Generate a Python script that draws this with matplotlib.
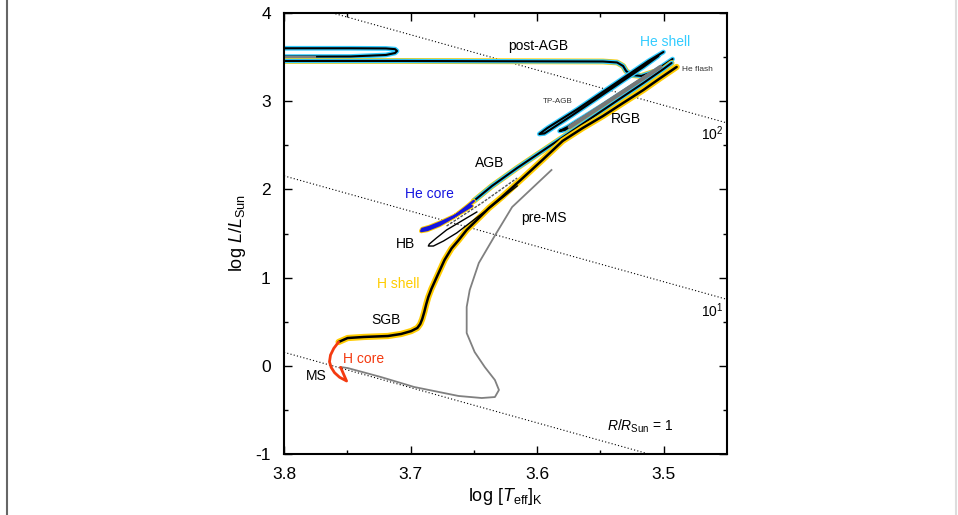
import numpy as np
import matplotlib
matplotlib.use('Agg')
import matplotlib.pyplot as plt
import matplotlib.patheffects as pe

plt.rcParams['font.family'] = ['Liberation Sans', 'DejaVu Sans']
plt.rcParams['mathtext.fontset'] = 'custom'
plt.rcParams['mathtext.rm'] = 'Liberation Sans'
plt.rcParams['mathtext.it'] = 'Liberation Sans:italic'

# evolutionary track of a 1 Msun star (log Teff, log L)
pre_ms_t = [3.5887, 3.6198, 3.6341, 3.6461, 3.6533, 3.6557, 3.6557, 3.6494, 3.6414,
            3.6334, 3.6302, 3.6334, 3.6438, 3.6621, 3.6972, 3.7235, 3.7498, 3.7554]
pre_ms_l = [2.220, 1.800, 1.460, 1.166, 0.859, 0.667, 0.372, 0.156, -0.014,
            -0.161, -0.274, -0.354, -0.365, -0.342, -0.240, -0.127, -0.025, -0.014]

h_core_t = [3.7553, 3.7530, 3.7506, 3.7561, 3.7601, 3.7628, 3.7641, 3.7633, 3.7607, 3.7569]
h_core_l = [-0.017, -0.093, -0.172, -0.130, -0.078, -0.017, 0.046, 0.122, 0.198, 0.270]

h_shell_t = [3.7569, 3.7498, 3.7370, 3.7179, 3.7075, 3.6995, 3.6947, 3.6924, 3.6908, 3.6892,
             3.6876, 3.6860, 3.6836, 3.6804, 3.6780, 3.6732, 3.6676, 3.6620, 3.6557, 3.6493,
             3.6381, 3.6278, 3.6174, 3.6062, 3.5959, 3.5799, 3.5640, 3.5480, 3.5321, 3.5161,
             3.5026, 3.4898]
h_shell_l = [0.270, 0.315, 0.327, 0.338, 0.361, 0.394, 0.429, 0.474, 0.531, 0.610,
             0.701, 0.780, 0.871, 0.973, 1.049, 1.200, 1.332, 1.426, 1.540, 1.630,
             1.789, 1.914, 2.050, 2.197, 2.333, 2.549, 2.696, 2.832, 2.980, 3.127,
             3.263, 3.388]

hb_t = [3.6477, 3.6597, 3.6716, 3.6796, 3.6852, 3.6860, 3.6820, 3.6740, 3.6636, 3.6533,
        3.6357, 3.6158]
hb_l = [1.744, 1.642, 1.540, 1.449, 1.381, 1.358, 1.358, 1.415, 1.506, 1.619,
        1.812, 2.039]
hb_band_t = [3.6716, 3.6437, 3.6158]
hb_band_l = [1.585, 1.846, 2.129]

he_core_t = [3.6517, 3.6636, 3.6756, 3.6852, 3.6908, 3.6916, 3.6868, 3.6772, 3.6660, 3.6549, 3.6501]
he_core_l = [1.812, 1.710, 1.630, 1.574, 1.551, 1.528, 1.540, 1.596, 1.687, 1.812, 1.869]

agb_t = [3.6501, 3.6357, 3.6158, 3.5959, 3.5759, 3.5560, 3.5361, 3.5161, 3.5002, 3.4938]
agb_l = [1.869, 2.039, 2.243, 2.435, 2.628, 2.821, 3.014, 3.206, 3.365, 3.433]

tp_a_t = [3.5002, 3.5121, 3.5400, 3.5680, 3.5919, 3.5983, 3.5943, 3.5719, 3.5440, 3.5161, 3.5042]
tp_a_l = [3.558, 3.456, 3.184, 2.912, 2.696, 2.628, 2.634, 2.844, 3.116, 3.388, 3.512]
tp_b_t = [3.4930, 3.5161, 3.5480, 3.5759, 3.5823, 3.5783, 3.5520, 3.5281, 3.5082, 3.4962]
tp_b_l = [3.478, 3.252, 2.957, 2.708, 2.662, 2.673, 2.912, 3.138, 3.320, 3.433]

grey_band_t = [3.5743, 3.5385, 3.5026]
grey_band_l = [2.708, 3.048, 3.388]

post_agb_t = [3.5082, 3.5177, 3.5257, 3.5297, 3.5321, 3.5369, 3.5480, 3.6278, 3.7075, 3.8112]
post_agb_l = [3.331, 3.286, 3.297, 3.342, 3.399, 3.439, 3.450, 3.453, 3.456, 3.456]

loop_t = [3.8112, 3.7474, 3.7195, 3.7123, 3.7107, 3.7123, 3.7195, 3.7474, 3.8112]
loop_l = [3.505, 3.507, 3.524, 3.546, 3.569, 3.590, 3.598, 3.600, 3.600]
loop_grey_t = [3.8112, 3.7753]
loop_grey_l = [3.505, 3.505]

# lines of constant radius (Stefan-Boltzmann)
radii = [1, 10, 100]
log_t_sun = 3.7617

yellow = '#FFCC00'
cyan = '#33CCFF'
blue = '#1515E0'
red = '#F43A10'

fig = plt.figure(figsize=(9.58, 5.15), dpi=100)
ax = fig.add_axes([0.2965, 0.1184, 0.4624, 0.8564])

t_grid = np.array([3.8, 3.45])
for r in radii:
    ax.plot(t_grid, 2 * np.log10(r) + 4 * (t_grid - log_t_sun), ls=(0, (1, 2)),
            color='black', lw=0.8)

ax.plot(pre_ms_t, pre_ms_l, color='#808080', lw=1.3)


def outlined(t, l, colors, widths, core='black', lw=1.5):
    effects = [pe.Stroke(linewidth=w, foreground=c) for c, w in zip(colors, widths)]
    effects.append(pe.Normal())
    ax.plot(t, l, color=core, lw=lw, solid_capstyle='round', solid_joinstyle='round',
            path_effects=effects)


outlined(loop_t, loop_l, [cyan], [3.4])
ax.plot(loop_grey_t, loop_grey_l, color='#808080', lw=1.5)
outlined(post_agb_t, post_agb_l, [yellow, cyan], [4.2, 3.2])
outlined(tp_a_t, tp_a_l, [cyan], [3.4])
outlined(tp_b_t, tp_b_l, [cyan], [3.4])
outlined(agb_t, agb_l, [yellow, cyan], [4.2, 3.2])
ax.plot(grey_band_t, grey_band_l, color='#777777', lw=3.0, solid_capstyle='round')
outlined(h_shell_t, h_shell_l, [yellow], [4.5], lw=1.8)
ax.plot(hb_band_t, hb_band_l, color='#555555', lw=1.0, ls=(0, (2, 1)))
ax.plot(hb_t, hb_l, color='black', lw=1.0)
outlined(he_core_t, he_core_l, [yellow], [3.2], core=blue, lw=1.8)
ax.plot(h_core_t, h_core_l, color=red, lw=2.0, solid_capstyle='round')

ax.set_xlim(3.8, 3.45)
ax.set_ylim(-1, 4)
ax.set_xticks([3.8, 3.7, 3.6, 3.5])
ax.set_xticks([3.75, 3.65, 3.55], minor=True)
ax.set_yticks([-1, 0, 1, 2, 3, 4])
ax.set_yticks([-0.5, 0.5, 1.5, 2.5, 3.5], minor=True)
ax.set_xticklabels(['3.8', '3.7', '3.6', '3.5'])
ax.set_yticklabels(['-1', '0', '1', '2', '3', '4'])
ax.tick_params(which='both', direction='in', top=True, right=True, labelsize=12.5, width=1)
ax.tick_params(which='major', length=6, pad=9.5)
ax.tick_params(which='minor', length=3)
for s in ax.spines.values():
    s.set_linewidth(1.5)

ax.set_xlabel(r'log [$\mathit{T}_{\mathrm{eff}}$]$_{\mathrm{K}}$', fontsize=13, labelpad=3)
ax.set_ylabel(r'log $\mathit{L}/\mathit{L}_{\mathrm{Sun}}$', fontsize=13, labelpad=5)

fs = 10
lab = dict(fontsize=fs, ha='center', va='baseline')
ax.text(3.5991, 3.580, 'post-AGB', **lab)
ax.text(3.4986, 3.620, 'He shell', color=cyan, **lab)
ax.text(3.4731, 3.337, 'He flash', fontsize=6, ha='center', va='baseline', color='#333333')
ax.text(3.5841, 2.976, 'TP-AGB', fontsize=5.8, ha='center', va='baseline', color='#333333')
ax.text(3.5301, 2.749, 'RGB', **lab)
ax.text(3.6373, 2.257, 'AGB', **lab)
ax.text(3.6853, 1.899, 'He core', color=blue, **lab)
ax.text(3.5945, 1.634, 'pre-MS', **lab)
ax.text(3.7043, 1.332, 'HB', **lab)
ax.text(3.7095, 0.879, 'H shell', color=yellow, **lab)
ax.text(3.7197, 0.4705, 'SGB', **lab)
ax.text(3.7370, 0.035, 'H core', color=red, **lab)
ax.text(3.7749, -0.161, 'MS', **lab)
ax.text(3.4707, 2.560, r'10$^{2}$', fontsize=fs, ha='left', va='baseline')
ax.text(3.4707, 0.557, r'10$^{1}$', fontsize=fs, ha='left', va='baseline')
ax.text(3.5448, -0.739, r'$\mathit{R}/\mathit{R}_{\mathrm{Sun}}$ = 1', fontsize=fs,
        ha='left', va='baseline')

# page edges
fig.add_artist(plt.Line2D([0.0073, 0.0073], [0, 1], color='#666666', lw=1.5))
fig.add_artist(plt.Line2D([0.998, 0.998], [0, 1], color='#dddddd', lw=1.5))

fig.savefig('out.png', dpi=100)
